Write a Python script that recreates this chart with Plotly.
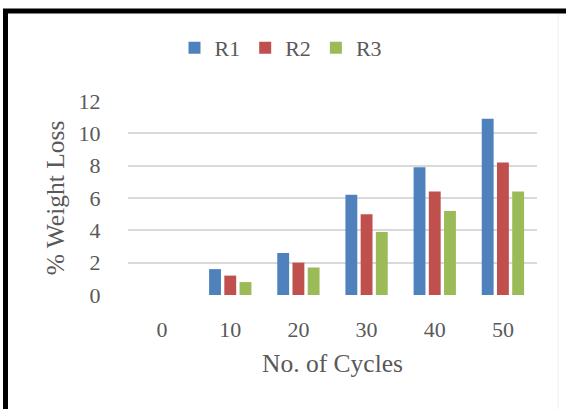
import plotly.graph_objects as go

cycles = ["0", "10", "20", "30", "40", "50"]
r1 = [0, 1.6, 2.6, 6.2, 7.9, 10.9]
r2 = [0, 1.2, 2.0, 5.0, 6.4, 8.2]
r3 = [0, 0.8, 1.7, 3.9, 5.2, 6.4]
y_ticks = [0, 2, 4, 6, 8, 10, 12]

colors = {"R1": "#4F81BD", "R2": "#C0504D", "R3": "#9BBB59"}
FONT = "Liberation Serif, Times New Roman, serif"
GRAY = "#595959"

fig = go.Figure()
for name, vals in (("R1", r1), ("R2", r2), ("R3", r3)):
    fig.add_trace(go.Bar(name=name, x=cycles, y=vals,
                         marker=dict(color=colors[name], line=dict(width=0))))

W, H = 566, 409
L, R, T, B = 128, 29, 101, 114
pw, ph = W - L - R, H - T - B

def px_x(x):
    return (x - L) / pw

def px_y(y):
    return (H - B - y) / ph

fig.update_layout(
    width=W, height=H,
    margin=dict(l=L, r=R, t=T, b=B),
    paper_bgcolor="white", plot_bgcolor="white",
    barmode="group", bargap=0.33, bargroupgap=0.22,
    font=dict(family=FONT, color=GRAY, size=22),
    showlegend=True,
    legend=dict(orientation="h", x=px_x(281), xanchor="center",
                y=px_y(48), yanchor="middle",
                font=dict(size=22, family=FONT, color=GRAY),
                itemwidth=30, traceorder="normal"),
    xaxis=dict(type="category", showgrid=False, zeroline=False,
               showline=False, ticks="outside", ticklen=15,
               tickcolor="rgba(0,0,0,0)",
               tickfont=dict(size=22, family=FONT, color=GRAY),
               title=dict(text="No. of Cycles", standoff=12,
                          font=dict(size=25.5, family=FONT, color=GRAY))),
    yaxis=dict(range=[0, 12], tickvals=y_ticks, showgrid=True,
               gridcolor="#D9D9D9", gridwidth=1.8, zeroline=False,
               showline=False, ticks="outside", ticklen=22,
               tickcolor="rgba(0,0,0,0)",
               tickfont=dict(size=22, family=FONT, color=GRAY),
               title=dict(text="% Weight Loss", standoff=6,
                          font=dict(size=25.5, family=FONT, color=GRAY))),
)

# outer frame (black at top and left, faint at right)
fig.add_shape(type="line", xref="paper", yref="paper",
              x0=px_x(3), x1=px_x(600), y0=px_y(11), y1=px_y(11),
              line=dict(color="black", width=5))
fig.add_shape(type="line", xref="paper", yref="paper",
              x0=px_x(5.5), x1=px_x(5.5), y0=px_y(9), y1=px_y(450),
              line=dict(color="black", width=5))
fig.add_shape(type="line", xref="paper", yref="paper",
              x0=px_x(558), x1=px_x(558), y0=px_y(14), y1=px_y(450),
              line=dict(color="#EEEEEE", width=1))

fig.write_html("out.html")
